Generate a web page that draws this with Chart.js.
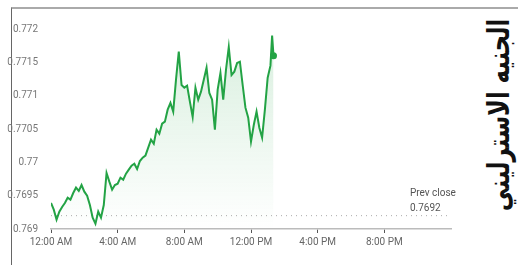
<!DOCTYPE html>
<html>
<head>
<meta charset="utf-8">
<script src="https://cdn.jsdelivr.net/npm/chart.js@4"></script>
<style>
  html, body { margin: 0; padding: 0; background: #fff; }
  body { width: 518px; height: 265px; position: relative; overflow: hidden; }
  #frame { position: absolute; left: 11px; top: 7px; right: 0; bottom: 0;
           border-left: 1.5px solid #666; border-top: 2px solid #aaa; }
  #box { position: absolute; left: 0; top: 0; width: 470px; height: 265px; }
  #title { position: absolute; left: 498px; top: 115px; white-space: nowrap;
           font-family: "DejaVu Sans", sans-serif; font-weight: bold; font-size: 30px;
           color: #111; direction: rtl; }
</style>
</head>
<body>
<div id="frame"></div>
<div id="box"><canvas id="rateChart"></canvas></div>
<div id="title">الجنيه الاسترليني</div>
<script>
// minutes since midnight
const times = [0, 10, 20, 30, 40, 50, 60, 70, 80, 90, 100, 110, 120, 130, 140, 150, 160, 170, 180, 190,
  200, 210, 220, 230, 240, 250, 260, 270, 280, 290, 300, 310, 320, 330, 340, 350, 360, 370, 380, 390,
  400, 410, 420, 430, 440, 450, 460, 470, 480, 490, 500, 510, 520, 530, 540, 550, 560, 570, 580, 590,
  600, 610, 620, 630, 640, 650, 660, 670, 680, 690, 700, 710, 720, 730, 740, 750, 760, 770, 780, 790,
  796, 801];

const rates = [0.76939, 0.76929, 0.76914, 0.76926, 0.76933, 0.76939, 0.76947, 0.76944, 0.76954, 0.76962,
  0.76957, 0.76966, 0.76956, 0.76950, 0.76936, 0.76917, 0.76908, 0.76926, 0.76917, 0.76936,
  0.76984, 0.76971, 0.76959, 0.76966, 0.76968, 0.76977, 0.76974, 0.76983, 0.76989, 0.76995,
  0.76998, 0.76990, 0.77002, 0.77007, 0.77010, 0.77022, 0.77034, 0.77028, 0.77049, 0.77043,
  0.77058, 0.77061, 0.77079, 0.77089, 0.77076, 0.77124, 0.77166, 0.77116, 0.77112, 0.77115,
  0.77091, 0.77068, 0.77112, 0.77094, 0.77106, 0.77124, 0.77142, 0.77104, 0.77094, 0.77049,
  0.77109, 0.77134, 0.77094, 0.77139, 0.77173, 0.77131, 0.77136, 0.77149, 0.77151, 0.77116,
  0.77082, 0.77067, 0.77031, 0.77056, 0.77076, 0.77052, 0.77037, 0.77079, 0.77127, 0.77145,
  0.77190, 0.77160];

const prevClose = 0.7692;
const yTicks = [0.769, 0.7695, 0.77, 0.7705, 0.771, 0.7715, 0.772];
const xTickLabels = ['12:00 AM', '4:00 AM', '8:00 AM', '12:00 PM', '4:00 PM', '8:00 PM'];

const green = '#23a345';

const prevCloseLabel = {
  id: 'prevCloseLabel',
  afterDatasetsDraw(chart) {
    const { ctx, scales: { x, y } } = chart;
    const px = x.getPixelForValue(1292);
    const py = y.getPixelForValue(prevClose);
    ctx.save();
    ctx.font = '10px Roboto, sans-serif';
    ctx.fillStyle = '#555';
    ctx.textAlign = 'left';
    ctx.textBaseline = 'alphabetic';
    ctx.fillText('Prev close', px, py - 20);
    ctx.fillText(String(prevClose), px, py - 5);
    ctx.restore();
  }
};

const canvas = document.getElementById('rateChart');

new Chart(canvas, {
  type: 'line',
  data: {
    datasets: [
      {
        data: times.map((t, i) => ({ x: t, y: rates[i] })),
        borderColor: green,
        borderWidth: 2,
        pointRadius: times.map((t, i) => i === times.length - 1 ? 3.5 : 0),
        pointBackgroundColor: green,
        pointBorderWidth: 0,
        tension: 0,
        fill: 'start',
        backgroundColor: (c) => {
          const area = c.chart.chartArea;
          if (!area) return 'rgba(35,163,69,0.1)';
          const g = c.chart.ctx.createLinearGradient(0, area.top + 20, 0, area.bottom);
          g.addColorStop(0, 'rgba(35,163,69,0.16)');
          g.addColorStop(1, 'rgba(35,163,69,0)');
          return g;
        }
      },
      {
        data: [{ x: 0, y: prevClose }, { x: 1440, y: prevClose }],
        borderColor: '#aaa',
        borderWidth: 1,
        borderDash: [1, 4],
        pointRadius: 0,
        fill: false
      }
    ]
  },
  options: {
    responsive: true,
    maintainAspectRatio: false,
    animation: false,
    layout: { padding: { left: 0, right: 19, top: 29, bottom: 6 } },
    plugins: { legend: { display: false }, tooltip: { enabled: false } },
    scales: {
      x: {
        type: 'linear',
        min: 0,
        max: 1440,
        afterBuildTicks: (scale) => {
          scale.ticks = [0, 240, 480, 720, 960, 1200].map(v => ({ value: v }));
        },
        afterFit: (scale) => { scale.height = 30; },
        grid: { drawOnChartArea: false, drawTicks: true, tickLength: 4, color: '#555', lineWidth: 1 },
        border: { display: true, color: '#bbb', width: 1.5 },
        ticks: {
          padding: 3,
          color: '#666',
          font: { family: 'Roboto, sans-serif', size: 10 },
          maxRotation: 0,
          callback: (v) => xTickLabels[v / 240]
        }
      },
      y: {
        min: 0.769,
        max: 0.772,
        afterBuildTicks: (scale) => {
          scale.ticks = yTicks.map(v => ({ value: v }));
        },
        afterFit: (scale) => { scale.width = 51; },
        grid: { display: false },
        border: { display: false },
        ticks: {
          padding: 5,
          color: '#777',
          font: { family: 'Roboto, sans-serif', size: 10 },
          callback: (v) => String(+v.toFixed(4))
        }
      }
    }
  },
  plugins: [prevCloseLabel]
});

// vertical Arabic title, stretched to span the chart height
const title = document.getElementById('title');
const w = title.offsetWidth;
title.style.transform = 'translate(-50%, -50%) rotate(-90deg) scaleX(' + (192 / w) + ')';
</script>
</body>
</html>
